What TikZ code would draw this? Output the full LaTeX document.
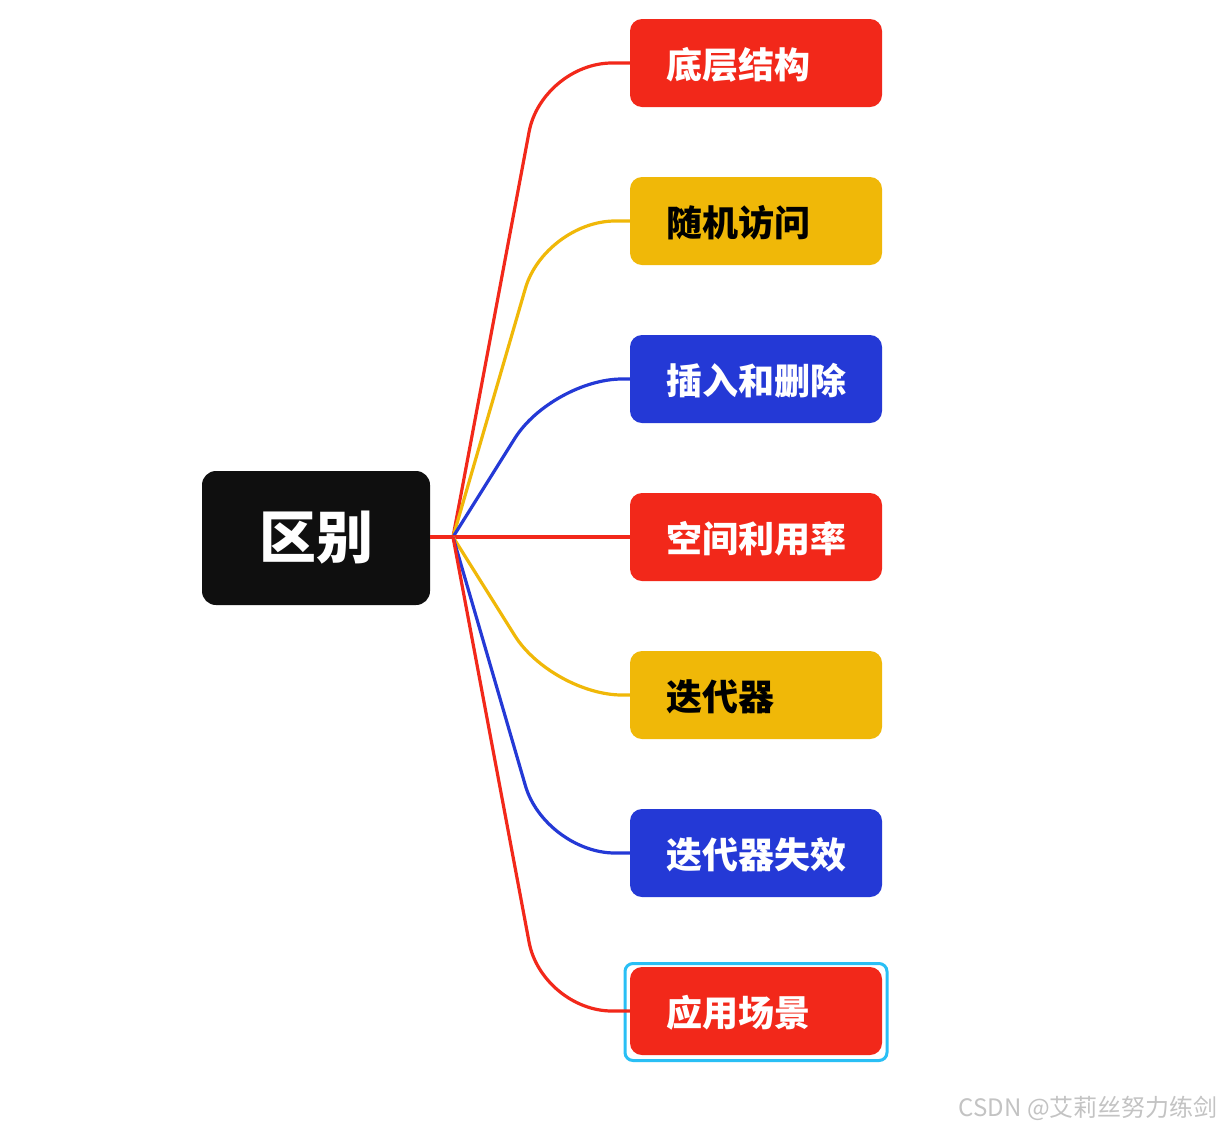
\documentclass[tikz,border=0pt]{standalone}
\usepackage{fontspec}
\setmainfont{Noto Sans CJK SC}
\definecolor{cred}{RGB}{242,40,26}
\definecolor{cyel}{RGB}{240,184,8}
\definecolor{cblu}{RGB}{36,57,214}
\definecolor{croot}{RGB}{15,15,15}
\definecolor{csel}{RGB}{41,191,245}
\definecolor{cwm}{RGB}{195,195,195}
\begin{document}
\begin{tikzpicture}[x=1pt,y=-1pt,
  child/.style={rounded corners=12pt, minimum width=252pt, minimum height=88pt, inner sep=0pt},
  ctext/.style={anchor=west, font=\fontsize{36}{40}\selectfont\bfseries, inner sep=0pt},
  conn/.style={line width=3.2pt, rounded corners=70pt}]
\useasboundingbox (0,0) rectangle (1222,1128);
\fill[white] (0,0) rectangle (1222,1128);
% root
\node[fill=croot, rounded corners=14pt, minimum width=228pt, minimum height=134pt, inner sep=0pt,
  text=white, font=\fontsize{57}{60}\selectfont\bfseries] (root) at (316,538) {区别};
\coordinate (J) at (453,537);
% children boxes
\node[child, fill=cred] (b1) at (756,63) {};
\node[child, fill=cyel] (b2) at (756,221) {};
\node[child, fill=cblu] (b3) at (756,379) {};
\node[child, fill=cred] (b4) at (756,537) {};
\node[child, fill=cyel] (b5) at (756,695) {};
\node[child, fill=cblu] (b6) at (756,853) {};
\node[draw=csel, line width=3pt, rounded corners=8pt, minimum width=262pt, minimum height=97pt, inner sep=0pt] (sel) at (756,1012) {};
\node[child, fill=cred] (b7) at (756,1011) {};
% connectors
\draw[conn, cred] (J) -- (542,63) -- (b1.west);
\draw[conn, cyel] (J) -- (545,221) -- (b2.west);
\draw[conn, cblu] (J) -- (552,379) -- (b3.west);
\draw[line width=3.2pt, cred] (root.east |- b4.west) -- (b4.west);
\draw[conn, cyel] (J) -- (552,695) -- (b5.west);
\draw[conn, cblu] (J) -- (545,853) -- (b6.west);
\draw[conn, cred] (J) -- (542,1011) -- (b7.west);
% texts
\node[ctext, text=white] (t1) at (666,65) {底层结构};
\node[ctext, text=black] (t2) at (666,223) {随机访问};
\node[ctext, text=white] (t3) at (666,381) {插入和删除};
\node[ctext, text=white] (t4) at (666,539) {空间利用率};
\node[ctext, text=black] (t5) at (666,697) {迭代器};
\node[ctext, text=white] (t6) at (666,855) {迭代器失效};
\node[ctext, text=white] (t7) at (666,1013) {应用场景};
% watermark
\node[anchor=east, text=cwm, inner sep=0pt, font=\fontsize{24}{26}\selectfont] (wm) at (1218,1108) {CSDN @艾莉丝努力练剑};
\end{tikzpicture}
\end{document}
